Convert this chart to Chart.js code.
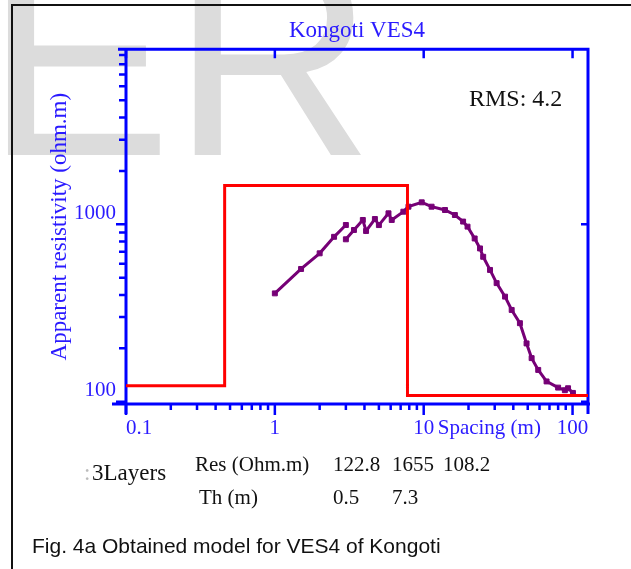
<!DOCTYPE html>
<html lang="en">
<head>
  <meta charset="UTF-8" />
  <title>Kongoti VES4</title>
  <script src="https://cdn.jsdelivr.net/npm/chart.js"></script>
  <style>
    html, body { margin: 0; padding: 0; background: #fff; }
    body {
      width: 631px;
      height: 569px;
      position: relative;
      overflow: hidden;
      font-family: 'Liberation Serif', serif;
    }
    #mark {
      position: absolute;
      left: -15px;
      top: -82px;
      font: 280px/1 'Liberation Sans', Arial, sans-serif;
      color: #dcdcdc;
      white-space: nowrap;
    }
    #frame {
      position: absolute;
      left: 11px;
      top: 4px;
      width: 800px;
      height: 800px;
      border-top: 2px solid #111;
      border-left: 2px solid #111;
    }
    #chart { position: absolute; left: 0; top: 0; }
    .t {
      position: absolute;
      white-space: nowrap;
      color: #111;
      font-size: 21px;
      line-height: 1;
    }
    #caption {
      position: absolute;
      left: 32px;
      top: 535px;
      font: 21px/1 'Liberation Sans', Arial, sans-serif;
      color: #111;
      white-space: nowrap;
    }
  </style>
</head>
<body>
  <div id="mark">ER</div>
  <div id="frame"></div>
  <canvas id="chart" width="631" height="569"></canvas>
  <div class="t" id="rms" style="left:469px; top:86px; font-size:24px;"></div>
  <div id="table"></div>
  <div id="caption">Fig. 4a Obtained model for VES4 of Kongoti</div>

  <script>
    // field data, first electrode segment
    const spacingSeg1 = [1.0, 1.5, 2.0, 2.5, 3.0];
    const rhoSeg1 = [408, 560, 686, 850, 991];

    // field data, second segment
    const spacingSeg2 = [3.0, 3.4, 3.9, 4.1, 4.7, 5.0, 5.8, 6.1, 7.3, 7.9, 9.7, 11.3, 13.9, 16.2,
      18.4, 19.7, 22.0, 23.9, 25.1, 27.9, 30.9, 35.2, 39.0, 44.3, 49.1, 53.1, 58.8, 66.9,
      80, 88.8, 93.3, 100.6];
    const rhoSeg2 = [823, 929, 1058, 917, 1071, 990, 1153, 1058, 1178, 1257, 1330, 1257, 1204, 1128,
      1036, 970, 832, 731, 656, 553, 466, 391, 329, 277, 213, 176, 151, 130,
      120, 116, 119, 112];

    // 3 layer model
    const layerRes = [122.8, 1655, 108.2];
    const layerTh = [0.46, 7.32];
    const rms = 4.2;

    const xTickLabels = ['0.1', '1', '10', '100'];
    const yTickLabels = ['100', '1000'];

    const xMin = 0.1, xMax = 127;
    const yMin = 97, yMax = 9700;

    const axisBlue = '#0000ff';
    const textBlue = '#2a1aff';
    const purple = '#760076';
    const serif = "'Liberation Serif', 'Times New Roman', serif";

    const fmt = v => String(+v.toPrecision(6));
    const isWhole = v => {
      const s = v / Math.pow(10, Math.floor(Math.log10(v) + 1e-9));
      return Math.abs(s - Math.round(s)) < 1e-6;
    };
    const isDecade = v => Math.abs(Math.log10(v) - Math.round(Math.log10(v))) < 1e-6;

    // model as step line through the layer boundaries
    const modelPts = [{ x: xMin, y: layerRes[0] }];
    let depth = 0;
    layerTh.forEach((th, i) => {
      depth += th;
      modelPts.push({ x: depth, y: layerRes[i + 1] });
    });
    modelPts.push({ x: xMax, y: layerRes[layerRes.length - 1] });

    const seg1 = spacingSeg1.map((s, i) => ({ x: s, y: rhoSeg1[i] }));
    const seg2 = spacingSeg2.map((s, i) => ({ x: s, y: rhoSeg2[i] }));

    // blue frame with ticks on all four sides
    const frameTicks = {
      id: 'frameTicks',
      beforeDatasetsDraw(chart) {
        const { ctx, chartArea: a, scales: { x, y } } = chart;
        ctx.save();
        ctx.strokeStyle = axisBlue;
        ctx.lineWidth = 3;
        ctx.beginPath();
        ctx.moveTo(a.left - 8, a.top); ctx.lineTo(a.right + 1.5, a.top);
        ctx.moveTo(a.right, a.top); ctx.lineTo(a.right, a.bottom + 10);
        ctx.moveTo(a.left - 14, a.bottom); ctx.lineTo(a.right + 2, a.bottom);
        ctx.moveTo(a.left, a.top - 1.5); ctx.lineTo(a.left, a.bottom + 10);
        ctx.stroke();

        ctx.lineWidth = 2.5;
        ctx.beginPath();
        x.ticks.forEach(t => {
          if (!isWhole(t.value)) return;
          const px = x.getPixelForValue(t.value);
          const major = isDecade(t.value);
          ctx.moveTo(px, a.bottom);
          ctx.lineTo(px, a.bottom + (major ? 11 : 6));
          if (major) { ctx.moveTo(px, a.top); ctx.lineTo(px, a.top + 9); }
        });
        y.ticks.forEach(t => {
          if (!isWhole(t.value)) return;
          const py = y.getPixelForValue(t.value);
          const major = isDecade(t.value);
          ctx.moveTo(a.left, py);
          ctx.lineTo(a.left - (major ? 10 : 7), py);
          if (major) { ctx.moveTo(a.right, py); ctx.lineTo(a.right - 7, py); }
        });
        ctx.stroke();
        ctx.restore();
      },
      afterDraw(chart) {
        // axis name sits in the tick label row, after the "10"
        const { ctx, scales: { x } } = chart;
        ctx.save();
        ctx.font = '21px ' + serif;
        ctx.fillStyle = textBlue;
        ctx.textBaseline = 'middle';
        ctx.textAlign = 'left';
        ctx.fillText('Spacing (m)', x.getPixelForValue(10) + 14, x.top + 12 + 12.6);
        ctx.restore();
      }
    };

    const chart = new Chart(document.getElementById('chart'), {
      type: 'line',
      data: {
        datasets: [
          {
            label: 'Model',
            data: modelPts,
            stepped: 'before',
            borderColor: '#ff0000',
            borderWidth: 3,
            pointRadius: 0,
            fill: false
          },
          {
            label: 'Field 1',
            data: seg1,
            borderColor: purple,
            backgroundColor: purple,
            borderWidth: 3,
            pointStyle: 'rect',
            pointRadius: 3.5,
            pointBorderWidth: 1,
            tension: 0,
            fill: false
          },
          {
            label: 'Field 2',
            data: seg2,
            borderColor: purple,
            backgroundColor: purple,
            borderWidth: 3,
            pointStyle: 'rect',
            pointRadius: 3.5,
            pointBorderWidth: 1,
            tension: 0,
            fill: false
          }
        ]
      },
      options: {
        responsive: false,
        animation: false,
        layout: { padding: { left: 0, top: 4, right: 43, bottom: 125 } },
        plugins: {
          legend: { display: false },
          tooltip: { enabled: false },
          title: {
            display: true,
            text: 'Kongoti VES4',
            color: textBlue,
            fullSize: false,
            font: { family: serif, size: 23, weight: 'normal' },
            padding: { top: 13, bottom: 4.7 }
          }
        },
        scales: {
          x: {
            type: 'logarithmic',
            min: xMin,
            max: xMax,
            grid: { display: false, drawTicks: false },
            border: { display: false },
            ticks: {
              autoSkip: false,
              maxRotation: 0,
              align: 'inner',
              padding: 12,
              color: textBlue,
              font: { family: serif, size: 21 },
              callback: v => xTickLabels.includes(fmt(v)) ? fmt(v) : ''
            },
            afterFit(s) { s.height = 40; }
          },
          y: {
            type: 'logarithmic',
            min: yMin,
            max: yMax,
            grid: { display: false, drawTicks: false },
            border: { display: false },
            ticks: {
              autoSkip: false,
              padding: 10,
              labelOffset: -11,
              color: textBlue,
              font: { family: serif, size: 21 },
              callback: v => yTickLabels.includes(fmt(v)) ? fmt(v) : ''
            },
            title: {
              display: true,
              text: 'Apparent resistivity (ohm.m)',
              color: textBlue,
              font: { family: serif, size: 23 },
              padding: { top: 46, bottom: 0 }
            },
            afterFit(s) { s.width = 126; }
          }
        }
      },
      plugins: [frameTicks]
    });

    // annotation and layer table under the chart
    document.getElementById('rms').textContent = 'RMS: ' + rms;

    const table = document.getElementById('table');
    function put(text, left, top, size, color) {
      const d = document.createElement('div');
      d.className = 't';
      d.textContent = text;
      d.style.left = left + 'px';
      d.style.top = top + 'px';
      if (size) d.style.fontSize = size + 'px';
      if (color) d.style.color = color;
      table.appendChild(d);
    }
    put(':', 84, 461, 23, '#bbb');
    put('3Layers', 92, 461, 23);
    put('Res (Ohm.m)', 195, 454);
    const resLeft = [333, 392, 443];
    layerRes.forEach((r, i) => put(String(r), resLeft[i], 454));
    put('Th (m)', 199, 487);
    layerTh.forEach((t, i) => put(t.toFixed(1), resLeft[i], 487));
  </script>
</body>
</html>
